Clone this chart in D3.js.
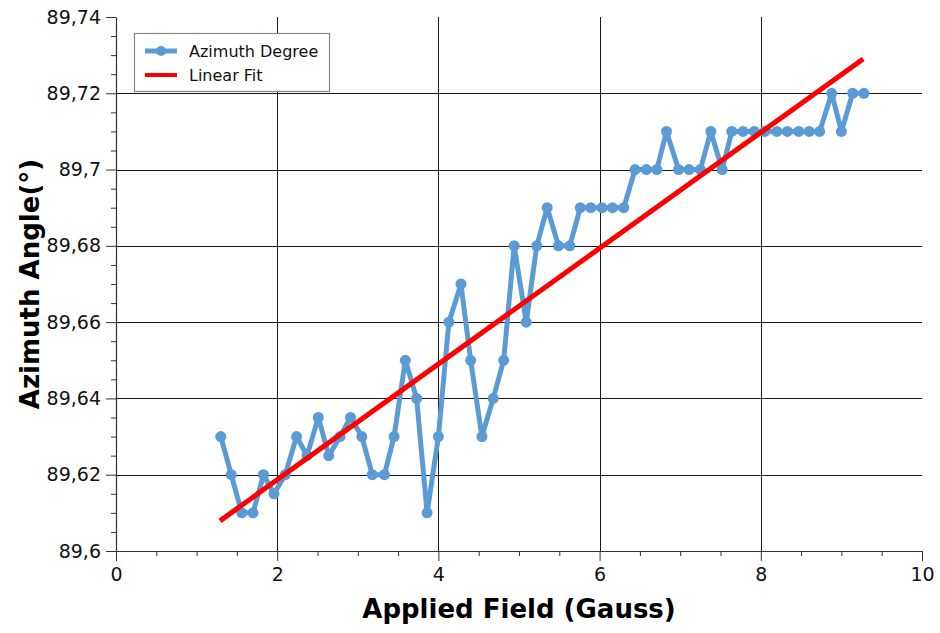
<!DOCTYPE html>
<html>
<head>
<meta charset="utf-8">
<script src="https://cdn.jsdelivr.net/npm/d3@7"></script>
<style>
  html, body { margin: 0; padding: 0; background: #fff; }
  svg { display: block; font-family: "DejaVu Sans", Verdana, sans-serif; }
</style>
</head>
<body>
<svg id="chart" width="940" height="633"></svg>
<script>
// Applied field (Gauss) for each measurement
const fieldGauss = [
  1.30, 1.43, 1.56, 1.70, 1.83, 1.96, 2.10, 2.24, 2.37, 2.51,
  2.64, 2.78, 2.91, 3.05, 3.18, 3.33, 3.45, 3.59, 3.73, 3.86,
  4.00, 4.13, 4.28, 4.40, 4.54, 4.68, 4.81, 4.94, 5.09, 5.22,
  5.35, 5.49, 5.63, 5.76, 5.89, 6.03, 6.16, 6.30, 6.44, 6.58,
  6.71, 6.83, 6.98, 7.11, 7.25, 7.38, 7.52, 7.64, 7.78, 7.92,
  8.05, 8.20, 8.33, 8.47, 8.60, 8.73, 8.88, 9.00, 9.14, 9.28
];
// Measured azimuth angle (degrees)
const azimuthDeg = [
  89.630, 89.620, 89.610, 89.610, 89.620, 89.615, 89.620, 89.630, 89.625, 89.635,
  89.625, 89.630, 89.635, 89.630, 89.620, 89.620, 89.630, 89.650, 89.640, 89.610,
  89.630, 89.660, 89.670, 89.650, 89.630, 89.640, 89.650, 89.680, 89.660, 89.680,
  89.690, 89.680, 89.680, 89.690, 89.690, 89.690, 89.690, 89.690, 89.700, 89.700,
  89.700, 89.710, 89.700, 89.700, 89.700, 89.710, 89.700, 89.710, 89.710, 89.710,
  89.710, 89.710, 89.710, 89.710, 89.710, 89.710, 89.720, 89.710, 89.720, 89.720
];
// Linear fit end points
const fitX = [1.29, 9.27];
const fitY = [89.6079, 89.7290];

// Axis ticks and labels
const xTicks = [0, 2, 4, 6, 8, 10];
const xTickLabels = ["0", "2", "4", "6", "8", "10"];
const xMinorTicks = [0.5, 1, 1.5, 2.5, 3, 3.5, 4.5, 5, 5.5, 6.5, 7, 7.5, 8.5, 9, 9.5];
const yTicks = [89.60, 89.62, 89.64, 89.66, 89.68, 89.70, 89.72, 89.74];
const yTickLabels = ["89,6", "89,62", "89,64", "89,66", "89,68", "89,7", "89,72", "89,74"];
const yMinorTicks = [
  89.605, 89.61, 89.615, 89.625, 89.63, 89.635, 89.645, 89.65, 89.655,
  89.665, 89.67, 89.675, 89.685, 89.69, 89.695, 89.705, 89.71, 89.715,
  89.725, 89.73, 89.735
];
const xGrid = [2, 4, 6, 8];
const yGrid = [89.62, 89.64, 89.66, 89.68, 89.70, 89.72];

const seriesNames = ["Azimuth Degree", "Linear Fit"];
const seriesColors = ["#5b9bd5", "#ff0000"];

const svg = d3.select("#chart");
const plotLeft = 116, plotRight = 922, plotTop = 17, plotBottom = 551;

const x = d3.scaleLinear().domain([0, 10]).range([plotLeft, plotRight]);
const y = d3.scaleLinear().domain([89.6, 89.74]).range([plotBottom, plotTop]);

// grid
const grid = svg.append("g").attr("stroke", "#1a1a1a").attr("stroke-width", 1);
grid.selectAll("line.v").data(xGrid).join("line").attr("class", "v")
  .attr("x1", d => Math.round(x(d)) + 0.5).attr("x2", d => Math.round(x(d)) + 0.5)
  .attr("y1", plotTop).attr("y2", plotBottom);
grid.selectAll("line.h").data(yGrid).join("line").attr("class", "h")
  .attr("x1", plotLeft).attr("x2", plotRight)
  .attr("y1", d => Math.round(y(d)) + 0.5).attr("y2", d => Math.round(y(d)) + 0.5);

// minor ticks
svg.append("g").attr("transform", `translate(0,${plotBottom})`)
  .call(d3.axisBottom(x).tickValues(xMinorTicks).tickSize(5).tickFormat("").tickSizeOuter(0))
  .call(g => g.select(".domain").remove())
  .call(g => g.selectAll("line").attr("stroke", "#333"));
svg.append("g").attr("transform", `translate(${plotLeft},0)`)
  .call(d3.axisLeft(y).tickValues(yMinorTicks).tickSize(5).tickFormat("").tickSizeOuter(0))
  .call(g => g.select(".domain").remove())
  .call(g => g.selectAll("line").attr("stroke", "#333"));

// major axes
const xAxis = svg.append("g").attr("transform", `translate(0,${plotBottom})`)
  .call(d3.axisBottom(x).tickValues(xTicks).tickSize(10).tickSizeOuter(0)
    .tickFormat((d, i) => xTickLabels[i]).tickPadding(7));
const yAxis = svg.append("g").attr("transform", `translate(${plotLeft},0)`)
  .call(d3.axisLeft(y).tickValues(yTicks).tickSize(10).tickSizeOuter(0)
    .tickFormat((d, i) => yTickLabels[i]).tickPadding(5));
[xAxis, yAxis].forEach(g => {
  g.select(".domain").attr("stroke", "#333").attr("stroke-width", 1.2);
  g.selectAll(".tick line").attr("stroke", "#333");
  g.selectAll(".tick text").attr("fill", "#111")
    .style("font-family", "'DejaVu Sans', sans-serif").style("font-size", "19px");
});

// data series
const pts = fieldGauss.map((d, i) => [d, azimuthDeg[i]]);
svg.append("path").datum(pts)
  .attr("fill", "none").attr("stroke", seriesColors[0]).attr("stroke-width", 5)
  .attr("stroke-linejoin", "round")
  .attr("d", d3.line().x(d => x(d[0])).y(d => y(d[1])));
svg.append("g").selectAll("circle").data(pts).join("circle")
  .attr("cx", d => x(d[0])).attr("cy", d => y(d[1])).attr("r", 5.5)
  .attr("fill", seriesColors[0]);

// linear fit
const fitPts = fitX.map((d, i) => [d, fitY[i]]);
svg.append("path").datum(fitPts)
  .attr("fill", "none").attr("stroke", seriesColors[1]).attr("stroke-width", 5)
  .attr("d", d3.line().x(d => x(d[0])).y(d => y(d[1])));

// axis titles
svg.append("text").attr("x", (plotLeft + plotRight) / 2).attr("y", 618)
  .attr("text-anchor", "middle").attr("font-weight", "bold").attr("font-size", 26)
  .attr("fill", "#000").text("Applied Field (Gauss)");
svg.append("text").attr("transform", `translate(39,${(plotTop + plotBottom) / 2}) rotate(-90)`)
  .attr("text-anchor", "middle").attr("font-weight", "bold").attr("font-size", 26)
  .attr("fill", "#000").text("Azimuth Angle(°)");

// legend
const legend = svg.append("g");
legend.append("rect").attr("x", 134.5).attr("y", 33.5).attr("width", 195).attr("height", 58)
  .attr("fill", "#fff").attr("stroke", "#888").attr("stroke-width", 1.2);
const rows = [51, 75];
rows.forEach((ry, i) => {
  legend.append("line").attr("x1", 145).attr("x2", 177).attr("y1", ry).attr("y2", ry)
    .attr("stroke", seriesColors[i]).attr("stroke-width", i === 0 ? 5 : 4);
  if (i === 0) {
    legend.append("circle").attr("cx", 161).attr("cy", ry).attr("r", 5).attr("fill", seriesColors[0]);
  }
  legend.append("text").attr("x", 189).attr("y", ry + 5.5)
    .attr("font-size", 16).attr("fill", "#111").text(seriesNames[i]);
});
</script>
</body>
</html>
